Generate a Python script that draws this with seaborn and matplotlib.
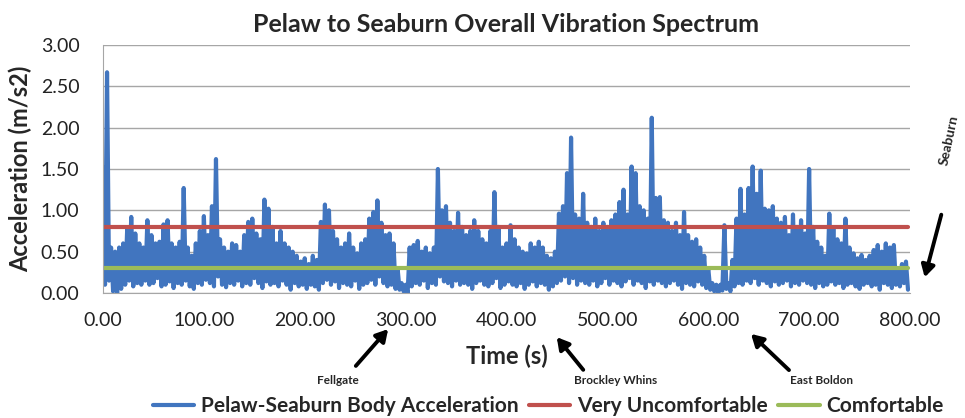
import numpy as np
import pandas as pd
import seaborn as sns
import matplotlib.pyplot as plt

# peak values (every 4 s, starting at 0 s)
peaks = [
    1.52, 2.67, 0.55, 0.50, 0.55, 0.60, 0.78, 0.92, 0.72, 0.60,
    0.55, 0.88, 0.70, 0.60, 0.62, 0.83, 0.88, 0.60, 0.55, 0.62,
    1.27, 0.55, 0.45, 0.60, 0.75, 0.93, 0.70, 1.05, 1.62, 0.65,
    0.55, 0.50, 0.60, 0.58, 0.50, 0.70, 0.86, 0.90, 0.72, 0.65,
    1.13, 1.02, 0.80, 0.60, 0.75, 0.60, 0.55, 0.50, 0.45, 0.38,
    0.42, 0.35, 0.45, 0.40, 0.86, 1.07, 1.00, 0.75, 0.65, 0.55,
    0.60, 0.72, 0.55, 0.48, 0.60, 0.65, 0.90, 0.98, 1.12, 0.85,
    0.70, 0.72, 0.60, 0.30, 0.12, 0.10, 0.55, 0.58, 0.63, 0.50,
    0.55, 0.48, 0.55, 1.50, 1.00, 1.05, 0.85, 0.75, 0.97, 0.80,
    0.70, 0.75, 0.88, 0.75, 0.65, 0.60, 0.75, 1.22, 0.80, 0.55,
    0.60, 0.82, 0.65, 0.55, 0.50, 0.48, 0.60, 0.55, 0.62, 0.55,
    0.45, 0.42, 0.50, 0.96, 1.05, 1.45, 1.88, 0.95, 0.90, 1.20,
    0.85, 0.80, 0.90, 0.75, 0.85, 0.80, 0.88, 0.95, 1.10, 1.25,
    0.95, 1.53, 1.45, 1.05, 1.00, 0.90, 2.12, 1.15, 1.16, 0.88,
    0.85, 0.75, 0.85, 0.70, 0.98, 0.70, 0.62, 0.65, 0.55, 0.45,
    0.30, 0.12, 0.10, 0.10, 0.82, 0.12, 0.40, 0.90, 1.26, 0.95,
    1.27, 1.53, 1.20, 1.48, 1.02, 1.00, 1.05, 0.90, 0.85, 0.92,
    0.70, 0.95, 0.80, 0.88, 0.72, 1.50, 0.80, 0.62, 0.55, 0.45,
    0.96, 0.78, 0.65, 0.60, 0.90, 0.55, 0.48, 0.42, 0.46, 0.40,
    0.45, 0.52, 0.58, 0.50, 0.60, 0.55, 0.58, 0.30, 0.35, 0.38,
]

# trough values (every 4 s, starting at 2 s)
troughs = [
    0.10, 0.15, 0.02, 0.00, 0.05, 0.10, 0.15, 0.08, 0.12, 0.10,
    0.15, 0.10, 0.12, 0.18, 0.08, 0.10, 0.14, 0.06, 0.12, 0.10,
    0.15, 0.08, 0.05, 0.12, 0.10, 0.16, 0.12, 0.08, 0.20, 0.10,
    0.07, 0.12, 0.10, 0.15, 0.08, 0.12, 0.10, 0.18, 0.12, 0.06,
    0.14, 0.10, 0.12, 0.08, 0.15, 0.10, 0.04, 0.12, 0.08, 0.10,
    0.05, 0.10, 0.08, 0.04, 0.12, 0.16, 0.10, 0.14, 0.06, 0.12,
    0.10, 0.08, 0.15, 0.05, 0.10, 0.12, 0.16, 0.10, 0.20, 0.12,
    0.08, 0.10, 0.05, 0.04, 0.02, 0.00, 0.08, 0.12, 0.10, 0.15,
    0.06, 0.12, 0.10, 0.20, 0.14, 0.12, 0.08, 0.15, 0.10, 0.12,
    0.10, 0.05, 0.12, 0.15, 0.10, 0.08, 0.12, 0.18, 0.06, 0.10,
    0.14, 0.10, 0.08, 0.12, 0.05, 0.10, 0.14, 0.08, 0.12, 0.10,
    0.04, 0.08, 0.12, 0.15, 0.20, 0.12, 0.18, 0.10, 0.15, 0.12,
    0.10, 0.15, 0.08, 0.12, 0.18, 0.10, 0.15, 0.12, 0.08, 0.14,
    0.18, 0.10, 0.15, 0.12, 0.06, 0.14, 0.10, 0.15, 0.12, 0.08,
    0.12, 0.15, 0.10, 0.05, 0.12, 0.10, 0.08, 0.14, 0.10, 0.06,
    0.04, 0.02, 0.00, 0.03, 0.05, 0.02, 0.08, 0.12, 0.10, 0.15,
    0.12, 0.18, 0.10, 0.15, 0.12, 0.08, 0.14, 0.10, 0.12, 0.15,
    0.08, 0.12, 0.10, 0.15, 0.12, 0.10, 0.06, 0.12, 0.08, 0.10,
    0.14, 0.10, 0.12, 0.06, 0.10, 0.12, 0.08, 0.05, 0.10, 0.12,
    0.08, 0.10, 0.04, 0.12, 0.10, 0.06, 0.10, 0.08, 0.12, 0.04,
]

very_uncomfortable = 0.8
comfortable = 0.3

x_ticks = [0, 100, 200, 300, 400, 500, 600, 700, 800]
y_ticks = [0, 0.5, 1.0, 1.5, 2.0, 2.5, 3.0]

# interleave peaks and troughs into one 2 s series
accel = np.empty(len(peaks) + len(troughs))
accel[0::2] = peaks
accel[1::2] = troughs
df = pd.DataFrame({"time": np.arange(len(accel)) * 2.0, "accel": accel})

sns.set_style("white")
plt.rcParams["font.family"] = ["Lato", "DejaVu Sans"]

fig = plt.figure(figsize=(9.65, 4.18), dpi=100)
ax = fig.add_axes([103 / 965, 125 / 418, 807 / 965, 248 / 418])

blue = "#4175BF"
red = "#C0504D"
green = "#9BBB59"

sns.lineplot(data=df, x="time", y="accel", ax=ax, color=blue, lw=3,
             estimator=None, sort=False, label="Pelaw-Seaburn Body Acceleration")
t0, t1 = df["time"].iloc[0], df["time"].iloc[-1]
sns.lineplot(x=[t0, t1], y=[very_uncomfortable] * 2, ax=ax, color=red, lw=3,
             label="Very Uncomfortable")
sns.lineplot(x=[t0, t1], y=[comfortable] * 2, ax=ax, color=green, lw=3,
             label="Comfortable")

ax.set_xlim(0, 800)
ax.set_ylim(0, 3)
ax.set_xticks(x_ticks)
ax.set_xticklabels([f"{v:.2f}" for v in x_ticks], fontsize=14, color="#222222")
ax.set_yticks(y_ticks)
ax.set_yticklabels([f"{v:.2f}" for v in y_ticks], fontsize=14, color="#222222")
ax.yaxis.grid(True, color="#A6A6A6", lw=1)
ax.set_axisbelow(True)
ax.tick_params(axis="both", direction="out", length=5, color="#A6A6A6", width=1)
ax.tick_params(axis="x", pad=9)
ax.tick_params(axis="y", pad=12)
for s in ["top", "right"]:
    ax.spines[s].set_visible(False)
for s in ["left", "bottom"]:
    ax.spines[s].set_color("#A6A6A6")

ax.set_title("Pelaw to Seaburn Overall Vibration Spectrum", fontsize=18,
             fontweight="bold", pad=9)
ax.set_xlabel("Time (s)", fontsize=17, fontweight="bold", labelpad=11)
ax.set_ylabel("Acceleration (m/s2)", fontsize=17, fontweight="bold", labelpad=6)

ax.get_legend().remove()
h, l = ax.get_legend_handles_labels()
fig.legend(h, l, loc="center", bbox_to_anchor=(548 / 965, 12 / 418), ncol=3,
           frameon=False, handlelength=2.0, columnspacing=0.5,
           handletextpad=0.3, prop={"weight": "bold", "size": 15})

# station labels and arrows (figure pixels, origin at bottom left)
arrow = dict(arrowstyle="-|>,head_length=0.7,head_width=0.4", color="black", lw=2.8)
stations = [
    ("Fellgate", (338, 418 - 381), (354, 418 - 368), (390, 418 - 327)),
    ("Brockley Whins", (616, 418 - 380), (585, 418 - 372), (555, 418 - 335)),
    ("East Boldon", (821, 418 - 381), (791, 418 - 372), (749, 418 - 332)),
]
for name, tpos, tail, head in stations:
    fig.text(tpos[0] / 965, tpos[1] / 418, name, fontsize=8.5, fontweight="bold",
             ha="center", va="center")
    ax.annotate("", xy=head, xycoords="figure pixels", xytext=tail,
                textcoords="figure pixels", arrowprops=arrow)

fig.text(949 / 965, (418 - 140) / 418, "Seaburn", fontsize=10, fontweight="bold",
         ha="center", va="center", rotation=78)
ax.annotate("", xy=(924, 418 - 280), xycoords="figure pixels", xytext=(942, 418 - 212),
            textcoords="figure pixels", arrowprops=arrow, annotation_clip=False)

fig.savefig("out.png", dpi=100)
